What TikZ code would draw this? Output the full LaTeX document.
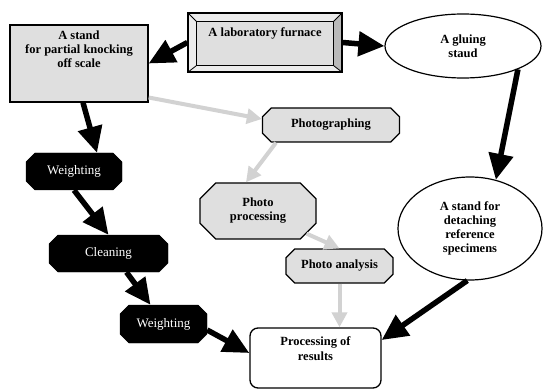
\documentclass[tikz,border=0pt]{standalone}
\usepackage{fontspec}
\setmainfont{Liberation Serif}
\usetikzlibrary{shapes.geometric, shapes.misc, arrows.meta, positioning, calc, backgrounds}

\begin{document}
\begin{tikzpicture}[
    x=1pt, y=-1pt,
    every node/.style={font=\fontsize{12.5}{14}\selectfont\bfseries},
    box/.style={draw, rectangle, line width=1.3pt, fill=gray!25, inner sep=0pt},
    oval/.style={draw, ellipse, line width=1.2pt, fill=white, align=center, inner sep=0pt},
    greyoct/.style={draw, chamfered rectangle, chamfered rectangle xsep=8pt, line width=1.3pt, fill=gray!25, align=center, inner sep=0pt},
    blackoct/.style={draw, chamfered rectangle, chamfered rectangle xsep=10pt, fill=black, text=white, font=\fontsize{13}{15}\selectfont, inner sep=0pt},
    arrow/.style={-{Triangle[length=26pt, width=24pt]}, line width=5.5pt},
    faint/.style={-{Triangle[length=15pt, width=15pt]}, line width=4pt, draw=gray!35},
]

% Stands and furnace
\node[box, minimum width=138pt, minimum height=77pt] (stand) at (79,63.5) {\parbox[c][65pt][t]{130pt}{\centering A stand\\for partial knocking\\off scale}};
\node[draw, line width=1.3pt, minimum width=154pt, minimum height=59pt, text height=24pt, text depth=35pt, inner sep=0pt] (furnace) at (265,42.5) {A laboratory furnace};
\node[oval, minimum width=156pt, minimum height=64pt] (gluing) at (463,46) {A gluing\\staud};
\node[oval, minimum width=144pt, minimum height=103pt] (detach) at (470,228.5) {A stand for\\detaching\\reference\\specimens};

% Photo branch
\node[greyoct, minimum width=137pt, minimum height=34pt] (photo) at (331,125) {Photographing};
\node[greyoct, chamfered rectangle xsep=15pt, minimum width=116pt, minimum height=56pt] (procphoto) at (258,211) {Photo\\processing};
\node[greyoct, minimum width=107pt, minimum height=34pt] (analysis) at (339.5,266) {Photo analysis};

% Weighting branch
\node[blackoct, minimum width=96pt, minimum height=37pt] (weigh1) at (74,171.5) {Weighting};
\node[blackoct, minimum width=119pt, minimum height=37pt] (cleaning) at (108.5,253.5) {Cleaning};
\node[blackoct, minimum width=87pt, minimum height=38pt] (weigh2) at (163.5,324) {Weighting};

% Results
\node[draw, rounded corners=8pt, line width=1.3pt, fill=white, minimum width=131pt, minimum height=60pt, inner sep=0pt] (results) at (315.5,358) {\parbox[c][42pt][t]{120pt}{\centering\baselineskip=15pt Processing of\\results}};

% Furnace bevel
\begin{scope}[on background layer]
  \path[use as bounding box, fill=white] (0,0) rectangle (543,390);
  \fill[gray!15] (furnace.north west) rectangle (furnace.south east);
  \fill[gray!55] (furnace.north east) -- ([shift={(-9,9)}]furnace.north east) -- ([shift={(-9,-7)}]furnace.south east) -- (furnace.south east) -- cycle;
  \draw[line width=1pt, fill=gray!25] ([shift={(9,9)}]furnace.north west) rectangle ([shift={(-9,-7)}]furnace.south east);
  \draw[line width=0.8pt] (furnace.north west) -- ([shift={(9,9)}]furnace.north west);
  \draw[line width=0.8pt] (furnace.north east) -- ([shift={(-9,9)}]furnace.north east);
  \draw[line width=0.8pt] (furnace.south west) -- ([shift={(9,-7)}]furnace.south west);
  \draw[line width=0.8pt] (furnace.south east) -- ([shift={(-9,-7)}]furnace.south east);
\end{scope}

% Arrows
\draw[faint] ([yshift=-34pt]stand.east) -- ([yshift=6pt]photo.west);
\draw[faint] ([xshift=-55pt]photo.south) -- ([xshift=-12pt]procphoto.north);
\draw[faint] (procphoto.-25) -- (analysis.north);
\draw[faint] (analysis.south) -- (analysis.south |- results.north);

\draw[arrow] (furnace.west) -- (stand.east);
\draw[arrow] (furnace.east) -- (gluing.west);
\draw[arrow] (gluing.-23) -- (detach.62);
\draw[arrow] (detach.-93) -- ([yshift=18pt]results.east);
\draw[arrow] ([xshift=4pt]stand.south) -- ([xshift=23pt]weigh1.north);
\draw[arrow] (weigh1.south) -- (cleaning.north);
\draw[arrow] ([xshift=18pt]cleaning.south) -- ([xshift=-13pt]weigh2.north);
\draw[arrow] ([yshift=-6pt]weigh2.east) -- ([yshift=5pt]results.west);

\end{tikzpicture}
\end{document}
